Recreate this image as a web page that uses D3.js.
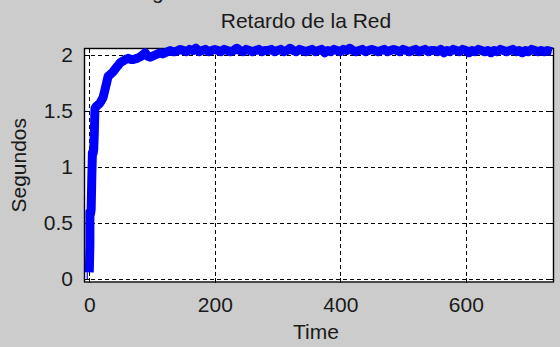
<!DOCTYPE html>
<html>
<head>
<meta charset="utf-8">
<script src="https://cdn.jsdelivr.net/npm/d3@7"></script>
<style>
  html, body { margin: 0; padding: 0; background: #cccccc; }
  svg { display: block; }
  text { font-family: "Liberation Sans", Arial, sans-serif; fill: #1a1a1a; }
</style>
</head>
<body>
<svg id="chart" width="560" height="347"></svg>
<script>
// Network delay trace: time vs. delay in seconds
const titleText = "Retardo de la Red";
const xLabel = "Time";
const yLabel = "Segundos";
const xTicks = [0, 200, 400, 600];
const yTicks = [0, 0.5, 1, 1.5, 2];

// sample times
const timeValues = [
  0, 1, 1, 2, 3, 4, 5, 6, 7, 8, 9, 11, 13, 15, 17, 20, 22, 25, 28, 30, 34, 38, 42, 45, 49, 52, 55, 58, 62,
  66, 70, 76, 80, 83, 89, 93, 97, 101, 105, 109, 113, 117, 121, 125, 129, 133, 137, 141, 145,
  150, 155, 160, 165, 170, 175, 180, 185, 190, 195, 200, 205, 210, 215, 220, 225, 230, 235, 240, 245,
  250, 255, 260, 265, 270, 275, 280, 285, 290, 295, 300, 305, 310, 315, 320, 325, 330, 335, 340, 345,
  350, 355, 360, 365, 370, 375, 380, 385, 390, 395, 400, 405, 410, 415, 420, 425, 430, 435, 440, 445,
  450, 455, 460, 465, 470, 475, 480, 485, 490, 495, 500, 505, 510, 515, 520, 525, 530, 535, 540, 545,
  550, 555, 560, 565, 570, 575, 580, 585, 590, 595, 600, 605, 610, 615, 620, 625, 630, 635, 640, 645,
  650, 655, 660, 665, 670, 675, 680, 685, 690, 695, 700, 705, 710, 715, 720, 725, 730, 737
];
// measured delay (s) at each sample time
const delayValues = [
  0.06, 0.30, 0.60, 0.58, 0.62, 0.90, 1.13, 1.12, 1.15, 1.30, 1.52, 1.54, 1.55, 1.56, 1.57, 1.60, 1.62, 1.69, 1.76, 1.81, 1.83, 1.85, 1.88, 1.90, 1.93, 1.94, 1.95, 1.96, 1.97,
  1.96, 1.96, 1.97, 1.98, 1.99, 2.02, 1.99, 1.98, 1.99, 2.00, 2.01, 2.02, 2.01, 2.02, 2.03, 2.04, 2.03, 2.03, 2.04, 2.05,
  2.04, 2.03, 2.05, 2.04, 2.06, 2.03, 2.04, 2.05, 2.03, 2.04, 2.05, 2.04, 2.03, 2.05, 2.04, 2.03, 2.04, 2.06, 2.04, 2.03,
  2.05, 2.04, 2.03, 2.04, 2.05, 2.03, 2.04, 2.04, 2.05, 2.03, 2.04, 2.05, 2.03, 2.04, 2.06, 2.04, 2.03, 2.05, 2.04, 2.03,
  2.04, 2.05, 2.03, 2.04, 2.05, 2.02, 2.04, 2.03, 2.05, 2.04, 2.03, 2.05, 2.04, 2.06, 2.04, 2.03, 2.04, 2.05, 2.03, 2.04,
  2.05, 2.04, 2.03, 2.04, 2.05, 2.03, 2.04, 2.05, 2.04, 2.03, 2.05, 2.04, 2.03, 2.04, 2.05, 2.03, 2.04, 2.05, 2.03, 2.04,
  2.04, 2.03, 2.05, 2.02, 2.04, 2.03, 2.05, 2.04, 2.03, 2.05, 2.04, 2.02, 2.04, 2.03, 2.05, 2.04, 2.03, 2.04, 2.02, 2.04,
  2.03, 2.05, 2.04, 2.03, 2.04, 2.05, 2.03, 2.04, 2.02, 2.04, 2.03, 2.05, 2.04, 2.03, 2.04, 2.03, 2.04, 2.03
];

const svg = d3.select("#chart");
const box = { left: 84, right: 554, top: 48, bottom: 282.5 };
const fontSize = "21px";

const x = d3.scaleLinear().domain([-8.4, 740.5]).range([box.left, box.right]);
const y = d3.scaleLinear().domain([-0.031, 2.0625]).range([box.bottom, box.top]);

// plot area
svg.append("rect")
  .attr("x", box.left).attr("y", box.top)
  .attr("width", box.right - box.left).attr("height", box.bottom - box.top)
  .attr("fill", "#ffffff");

// dashed grid
const grid = svg.append("g").attr("stroke", "#000").attr("stroke-width", 1)
  .attr("stroke-dasharray", "4,3").attr("shape-rendering", "crispEdges");
grid.selectAll("line.vx").data(xTicks).join("line")
  .attr("x1", d => Math.round(x(d)) + 0.5).attr("x2", d => Math.round(x(d)) + 0.5)
  .attr("y1", box.top).attr("y2", box.bottom);
grid.selectAll("line.hy").data(yTicks).join("line")
  .attr("x1", box.left).attr("x2", box.right)
  .attr("y1", d => Math.round(y(d)) + 0.5).attr("y2", d => Math.round(y(d)) + 0.5);

// axes (inward ticks on all four sides)
const tickLen = 5;
const xAxisBottom = d3.axisBottom(x).tickValues(xTicks).tickSizeInner(-tickLen).tickSizeOuter(0).tickPadding(15);
const yAxisLeft = d3.axisLeft(y).tickValues(yTicks).tickSizeInner(-tickLen).tickSizeOuter(0).tickPadding(11)
  .tickFormat(d3.format("~g"));
const xAxisTop = d3.axisTop(x).tickValues(xTicks).tickSizeInner(-tickLen).tickSizeOuter(0).tickFormat("");
const yAxisRight = d3.axisRight(y).tickValues(yTicks).tickSizeInner(-tickLen).tickSizeOuter(0).tickFormat("");

function styleAxis(g) {
  g.select(".domain").remove();
  g.selectAll(".tick line").attr("stroke", "#000").attr("shape-rendering", "crispEdges");
  g.selectAll(".tick text").attr("fill", "#1a1a1a")
    .style("font-family", '"Liberation Sans", Arial, sans-serif').style("font-size", fontSize);
}
svg.append("g").attr("transform", `translate(0,${box.bottom})`).call(xAxisBottom).call(styleAxis);
svg.append("g").attr("transform", `translate(${box.left},0)`).call(yAxisLeft).call(styleAxis);
svg.append("g").attr("transform", `translate(0,${box.top})`).call(xAxisTop).call(styleAxis);
svg.append("g").attr("transform", `translate(${box.right},0)`).call(yAxisRight).call(styleAxis);

// axes box
svg.append("rect")
  .attr("x", box.left + 0.5).attr("y", box.top + 0.5)
  .attr("width", box.right - box.left - 1).attr("height", box.bottom - box.top - 1)
  .attr("fill", "none").attr("stroke", "#000").attr("stroke-width", 1.4);

// delay trace
const series = timeValues.map((t, i) => ({ t, v: delayValues[i] }));
svg.append("path")
  .datum(series)
  .attr("fill", "none")
  .attr("stroke", "#0000ff")
  .attr("stroke-width", 9)
  .attr("stroke-linejoin", "round")
  .attr("d", d3.line().x(d => x(d.t)).y(d => y(d.v)));
// thin lead-in at start
svg.append("line")
  .attr("x1", x(0) - 2).attr("x2", x(0) - 2)
  .attr("y1", y(0)).attr("y2", y(delayValues[0]))
  .attr("stroke", "#0000ff").attr("stroke-width", 1.2);

// labels
svg.append("text").attr("x", 306).attr("y", 28)
  .attr("text-anchor", "middle").style("font-size", fontSize).text(titleText);
svg.append("text").attr("x", 316).attr("y", 339)
  .attr("text-anchor", "middle").style("font-size", fontSize).text(xLabel);
svg.append("text")
  .attr("transform", `translate(26,${(box.top + box.bottom) / 2}) rotate(-90)`)
  .attr("text-anchor", "middle").style("font-size", fontSize).text(yLabel);
// descender of text sitting above the frame
svg.append("text").attr("x", 152).attr("y", -1).style("font-size", fontSize).text("g");
</script>
</body>
</html>
